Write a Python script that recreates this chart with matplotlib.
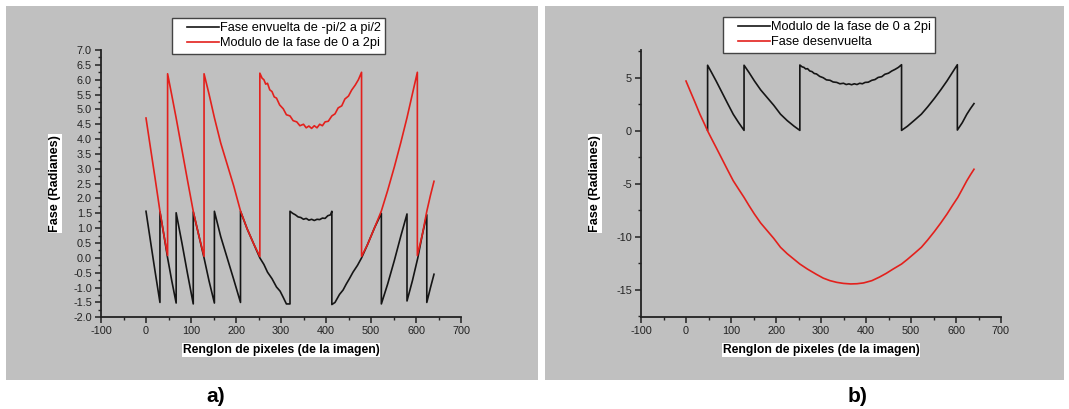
import matplotlib
matplotlib.use('Agg')
import matplotlib.pyplot as plt
from matplotlib.patches import Rectangle
from matplotlib.legend_handler import HandlerLine2D
from matplotlib.ticker import MultipleLocator, FormatStrFormatter

plt.rcParams['font.family'] = ['Liberation Sans', 'DejaVu Sans']
plt.rcParams['axes.unicode_minus'] = False

# (renglon, fase)
envuelta_a = [(0, 1.57), (10, 0.56), (20, -0.44), (31, -1.50), (31, 1.55), (40, 0.75),
              (48, 0.0), (57, -0.75), (67, -1.52), (67, 1.52), (80, 0.49), (92, -0.51),
              (105, -1.55), (105, 1.55), (117, 0.78), (129, 0.0), (140, -0.77), (152, -1.52),
              (152, 1.57), (166, 0.72), (181, -0.03), (195, -0.73), (210, -1.50), (210, 1.57),
              (225, 0.97), (240, 0.45), (253, 0.0), (262, -0.22), (270, -0.48), (280, -0.70),
              (290, -0.98), (298, -1.12), (305, -1.33), (312, -1.55), (320, -1.55),
              (320, 1.57), (326, 1.50), (332, 1.45), (338, 1.38), (344, 1.36), (350, 1.30),
              (356, 1.33), (362, 1.27), (368, 1.30), (374, 1.26), (380, 1.30), (386, 1.29),
              (392, 1.34), (398, 1.33), (404, 1.42), (410, 1.45), (413, 1.57),
              (413, -1.57), (420, -1.50), (430, -1.23), (438, -1.08), (445, -0.88),
              (452, -0.70), (460, -0.48), (470, -0.25), (479, 0.0), (492, 0.44), (508, 1.02),
              (523, 1.50), (523, -1.55), (537, -0.88), (552, -0.08), (566, 0.72), (580, 1.48),
              (580, -1.45), (592, -0.77), (604, 0.0), (614, 0.78), (624, 1.45), (624, -1.50),
              (632, -1.01), (640, -0.55)]

modulo_a = [(0, 4.71), (10, 3.70), (20, 2.70), (31, 1.57), (40, 0.75), (48, 0.08),
            (48, 6.20), (57, 5.50), (67, 4.71), (80, 3.63), (92, 2.63), (105, 1.57),
            (117, 0.78), (129, 0.05), (129, 6.20), (140, 5.52), (152, 4.72), (166, 3.87),
            (181, 3.12), (195, 2.42), (210, 1.58), (225, 0.97), (240, 0.45), (253, 0.05),
            (253, 6.22), (258, 6.05), (262, 6.00), (266, 5.85), (270, 5.88), (275, 5.66),
            (280, 5.60), (285, 5.42), (290, 5.38), (297, 5.15), (305, 5.02), (312, 4.82),
            (320, 4.78), (327, 4.62), (335, 4.58), (342, 4.45), (350, 4.50), (356, 4.38),
            (362, 4.44), (368, 4.36), (374, 4.45), (380, 4.38), (386, 4.50), (392, 4.45),
            (398, 4.58), (405, 4.60), (413, 4.78), (420, 4.85), (427, 5.05), (435, 5.12),
            (442, 5.35), (450, 5.45), (457, 5.65), (465, 5.82), (472, 6.00), (479, 6.25),
            (479, 0.05), (492, 0.44), (508, 1.02), (523, 1.58), (537, 2.27), (552, 3.07),
            (566, 3.87), (580, 4.72), (592, 5.52), (603, 6.25), (603, 0.08), (614, 0.78),
            (624, 1.57), (632, 2.10), (640, 2.58)]

# en b) la fase modulo 2pi empieza en el renglon 48
modulo_b = modulo_a[5:]

desenvuelta_b = [(0, 4.71), (10, 3.70), (20, 2.70), (31, 1.57), (40, 0.75), (48, 0.0),
                 (57, -0.75), (67, -1.57), (80, -2.65), (92, -3.65), (105, -4.71),
                 (117, -5.50), (129, -6.28), (140, -7.05), (152, -7.85), (166, -8.70),
                 (181, -9.45), (195, -10.15), (210, -10.99), (225, -11.60), (240, -12.12),
                 (253, -12.57), (270, -13.05), (290, -13.55), (305, -13.90), (320, -14.14),
                 (335, -14.30), (350, -14.40), (366, -14.45), (380, -14.43), (395, -14.35),
                 (413, -14.14), (430, -13.80), (445, -13.45), (460, -13.05), (479, -12.57),
                 (492, -12.13), (508, -11.55), (523, -10.99), (537, -10.30), (552, -9.50),
                 (566, -8.70), (580, -7.85), (592, -7.05), (604, -6.28), (614, -5.50),
                 (624, -4.71), (632, -4.15), (640, -3.62)]

RED = '#e3201c'
BLACK = '#151515'
GREY = '#c0c0c0'

fig = plt.figure(figsize=(10.69, 4.09), dpi=100)
W, H = 1069, 409

# fondos grises de cada panel (detras de los ejes)
fig.patches.append(Rectangle((6 / W, 1 - 380 / H), 532 / W, 374 / H, transform=fig.transFigure,
                             facecolor=GREY, edgecolor='none', zorder=-5))
fig.patches.append(Rectangle((545 / W, 1 - 380 / H), 519 / W, 374 / H, transform=fig.transFigure,
                             facecolor=GREY, edgecolor='none', zorder=-5))


def style_axes(ax):
    ax.set_facecolor('none')
    for s in ['top', 'right']:
        ax.spines[s].set_visible(False)
    for s in ['left', 'bottom']:
        ax.spines[s].set_linewidth(1.3)
        ax.spines[s].set_color('#222222')
    ax.tick_params(which='major', direction='out', length=4, width=1.1, labelsize=7.8,
                   colors='#222222', pad=2.5)
    ax.tick_params(which='minor', direction='out', length=2.3, width=1.0, colors='#222222')
    ax.set_xlim(-100, 700)
    ax.xaxis.set_major_locator(MultipleLocator(100))
    ax.xaxis.set_minor_locator(MultipleLocator(50))
    ax.set_xlabel('Renglon de pixeles (de la imagen)', fontsize=8.7, fontweight='bold',
                  bbox=dict(facecolor='white', edgecolor='none', pad=0.8))
    ax.set_ylabel('Fase (Radianes)', fontsize=9.1, fontweight='bold',
                  bbox=dict(facecolor='white', edgecolor='none', pad=0.8))
    ax.xaxis.set_label_coords(0.5, -0.1)
    ax.yaxis.set_label_coords(-0.112, 0.5)


def add_legend(ax, anchor):
    leg = ax.legend(loc='upper left', bbox_to_anchor=anchor, bbox_transform=fig.transFigure,
                    fontsize=9.2, frameon=True, fancybox=False, framealpha=1,
                    edgecolor='#444444', borderpad=0.35, labelspacing=0.22,
                    handlelength=3.3, handletextpad=0.1, borderaxespad=0,
                    handler_map={plt.Line2D: HandlerLine2D(xpad=0.85)})
    leg.get_frame().set_linewidth(1.0)


# panel a)
ax1 = fig.add_axes([101 / W, 1 - 317.3 / H, 360 / W, 267.3 / H])
style_axes(ax1)
ax1.plot([p[0] for p in envuelta_a], [p[1] for p in envuelta_a], color=BLACK, lw=1.2,
         label='Fase envuelta de -pi/2 a pi/2')
ax1.plot([p[0] for p in modulo_a], [p[1] for p in modulo_a], color=RED, lw=1.2,
         label='Modulo de la fase de 0 a 2pi')
ax1.set_ylim(-2.0, 7.0)
ax1.yaxis.set_major_locator(MultipleLocator(0.5))
ax1.yaxis.set_minor_locator(MultipleLocator(0.25))
ax1.yaxis.set_major_formatter(FormatStrFormatter('%.1f'))
add_legend(ax1, (172 / W, 1 - 18 / H))

# panel b)
ax2 = fig.add_axes([641 / W, 1 - 317.3 / H, 360 / W, 267.3 / H])
style_axes(ax2)
ax2.plot([p[0] for p in modulo_b], [p[1] for p in modulo_b], color=BLACK, lw=1.2,
         label='Modulo de la fase de 0 a 2pi')
ax2.plot([p[0] for p in desenvuelta_b], [p[1] for p in desenvuelta_b], color=RED, lw=1.2,
         label='Fase desenvuelta')
ax2.set_ylim(-17.6, 7.64)
ax2.yaxis.set_major_locator(MultipleLocator(5))
ax2.yaxis.set_minor_locator(MultipleLocator(2.5))
add_legend(ax2, (723 / W, 1 - 17 / H))

fig.text(216 / W, 1 - 396 / H, 'a)', fontsize=15, fontweight='bold', ha='center', va='center')
fig.text(858 / W, 1 - 396 / H, 'b)', fontsize=15, fontweight='bold', ha='center', va='center')

fig.savefig('out.png', dpi=100)
